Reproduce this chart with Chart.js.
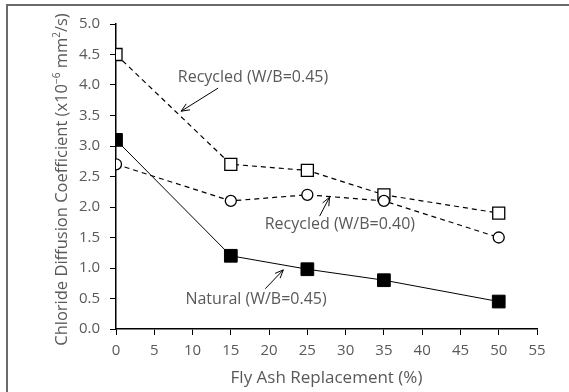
<!DOCTYPE html>
<html>
<head>
<meta charset="utf-8">
<script src="https://cdn.jsdelivr.net/npm/chart.js@4/dist/chart.umd.min.js"></script>
<style>
  html, body { margin: 0; padding: 0; background: #fff; }
  #wrap { width: 569px; height: 392px; position: relative; }
</style>
</head>
<body>
<div id="wrap"><canvas id="chart"></canvas></div>
<script>
// ── data ──
const flyAsh = [0, 15, 25, 35, 50];
const recycled045 = [4.5, 2.7, 2.6, 2.2, 1.9];
const recycled040 = [2.7, 2.1, 2.2, 2.1, 1.5];
const natural045 = [3.1, 1.2, 0.98, 0.8, 0.45];

// labels with arrows: text position + arrow from/to (data coords)
const callouts = [
  { text: 'Recycled (W/B=0.45)', at: [17.9, 4.13], from: [13.35, 3.95], to: [8.5, 3.57] },
  { text: 'Recycled (W/B=0.40)', at: [29.25, 1.72], from: [26.6, 1.85], to: [27.9, 2.16] },
  { text: 'Natural (W/B=0.45)', at: [18.3, 0.49], from: [19.5, 0.66], to: [21.86, 0.97] }
];

// y title pieces: [text, superscript?]
const yTitle = [
  ['Chloride Diffusion Coefficient (x10', false],
  ['\u22126', true],
  [' mm', false],
  ['2', true],
  ['/s)', false]
];

const textColor = '#595959';
const fontFamily = '"Open Sans", "DejaVu Sans", sans-serif';

const pts = arr => flyAsh.map((x, i) => ({ x, y: arr[i] }));

// frame, y title with superscripts, callouts
const extras = {
  id: 'extras',
  beforeDraw(chart) {
    const ctx = chart.ctx;
    ctx.save();
    ctx.strokeStyle = '#6b6b6b';
    ctx.lineWidth = 2;
    ctx.strokeRect(7, 5, 600, 420);
    ctx.restore();
  },
  afterDraw(chart) {
    const ctx = chart.ctx;
    const area = chart.chartArea;
    ctx.save();
    const big = '16.5px ' + fontFamily, small = '10px ' + fontFamily;
    let w = 0;
    yTitle.forEach(([t, sup]) => { ctx.font = sup ? small : big; w += ctx.measureText(t).width; });
    ctx.translate(61, (area.top + area.bottom) / 2 + 3);
    ctx.rotate(-Math.PI / 2);
    ctx.fillStyle = textColor;
    ctx.textBaseline = 'alphabetic';
    ctx.textAlign = 'left';
    let x = -w / 2;
    yTitle.forEach(([t, sup]) => {
      ctx.font = sup ? small : big;
      ctx.fillText(t, x, sup ? -1 : 6);
      x += ctx.measureText(t).width;
    });
    ctx.restore();
  },
  afterDatasetsDraw(chart) {
    const ctx = chart.ctx;
    const xs = chart.scales.x, ys = chart.scales.y;
    ctx.save();
    ctx.font = '16px ' + fontFamily;
    ctx.fillStyle = textColor;
    ctx.textAlign = 'center';
    ctx.textBaseline = 'middle';
    callouts.forEach(c => {
      ctx.fillText(c.text, xs.getPixelForValue(c.at[0]), ys.getPixelForValue(c.at[1]));
      const x1 = xs.getPixelForValue(c.from[0]), y1 = ys.getPixelForValue(c.from[1]);
      const x2 = xs.getPixelForValue(c.to[0]), y2 = ys.getPixelForValue(c.to[1]);
      ctx.strokeStyle = '#000';
      ctx.lineWidth = 1;
      ctx.beginPath();
      ctx.moveTo(x1, y1);
      ctx.lineTo(x2, y2);
      const a = Math.atan2(y2 - y1, x2 - x1);
      const h = 9;
      ctx.moveTo(x2 - h * Math.cos(a - 0.4), y2 - h * Math.sin(a - 0.4));
      ctx.lineTo(x2, y2);
      ctx.lineTo(x2 - h * Math.cos(a + 0.4), y2 - h * Math.sin(a + 0.4));
      ctx.stroke();
    });
    ctx.restore();
  }
};

new Chart(document.getElementById('chart'), {
  type: 'scatter',
  data: {
    datasets: [
      {
        data: pts(natural045), showLine: true, borderColor: '#000', borderWidth: 1,
        pointStyle: 'rect', pointRadius: 9, pointBackgroundColor: '#000', pointBorderColor: '#000'
      },
      {
        data: pts(recycled040), showLine: true, borderColor: '#000', borderWidth: 1.2, borderDash: [5, 4],
        pointStyle: 'circle', pointRadius: 5.5, pointBackgroundColor: '#fff', pointBorderColor: '#000', pointBorderWidth: 1.3
      },
      {
        data: pts(recycled045), showLine: true, borderColor: '#000', borderWidth: 1.2, borderDash: [5, 4],
        pointStyle: 'rect', pointRadius: 8.5, pointBackgroundColor: '#fff', pointBorderColor: '#000', pointBorderWidth: 1.3
      }
    ]
  },
  options: {
    responsive: true,
    maintainAspectRatio: false,
    animation: false,
    layout: { padding: { left: 0, right: 32, top: 24, bottom: 0 } },
    plugins: { legend: { display: false }, tooltip: { enabled: false } },
    scales: {
      x: {
        type: 'linear', min: 0, max: 55,
        afterFit: s => { s.height = 63; },
        ticks: { stepSize: 5, color: textColor, padding: 7, font: { family: fontFamily, size: 15 } },
        grid: { display: true, drawOnChartArea: false, drawTicks: true, tickLength: 6, color: '#000' },
        border: { color: '#000', width: 1.5 },
        title: { display: true, text: 'Fly Ash Replacement (%)', color: textColor, padding: { top: 0 }, font: { family: fontFamily, size: 17 } }
      },
      y: {
        min: 0, max: 5,
        afterFit: s => { s.width = 116; },
        ticks: { stepSize: 0.5, color: textColor, padding: 10, callback: v => v.toFixed(1), font: { family: fontFamily, size: 15 } },
        grid: { display: true, drawOnChartArea: false, drawTicks: true, tickLength: 6, color: '#000' },
        border: { color: '#000', width: 1.5 },
        title: { display: false }
      }
    }
  },
  plugins: [extras]
});
</script>
</body>
</html>
